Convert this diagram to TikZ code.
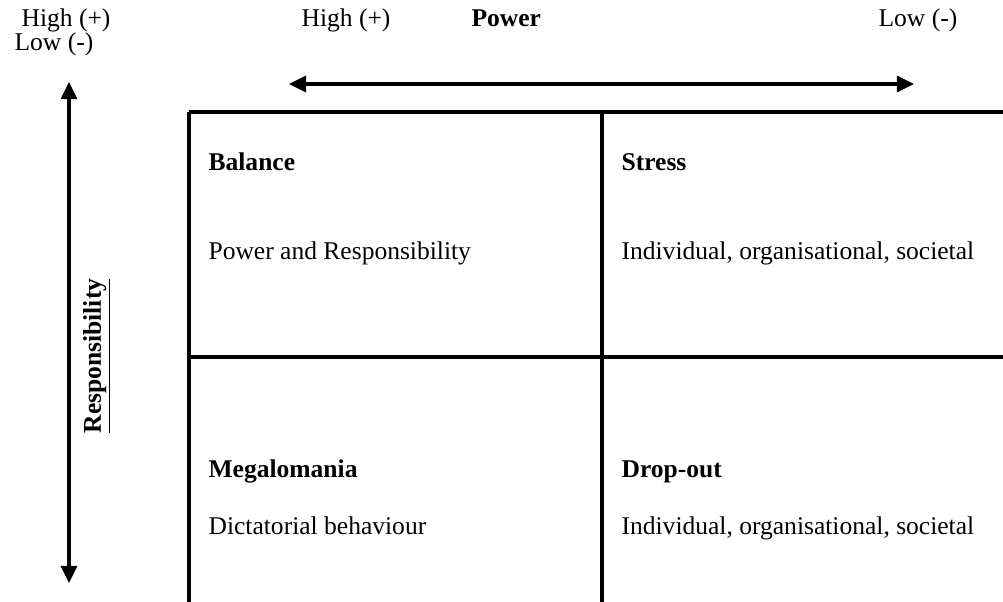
\documentclass[tikz,border=0pt]{standalone}
\usepackage{fontspec}
\setmainfont{Liberation Serif}
\usetikzlibrary{arrows.meta}

\begin{document}
\begin{tikzpicture}[x = 0.47pt, y = -0.47pt, line width = 1.5pt,
  font = \fontsize{12}{14}\selectfont,
  txt/.style = {inner sep = 0pt, anchor = base west},
  axis/.style = {{Triangle[length = 8pt, width = 7.5pt]}-{Triangle[length = 8pt, width = 7.5pt]}}]
\useasboundingbox (0, 0) rectangle (1003, 602);
% Axis labels
\node[txt] (respHigh) at (20, 27) {High (+)};
\node[txt] (respLow) at (13, 51) {Low (-)};
\node[txt] (powHigh) at (300, 27) {High (+)};
\node[txt] (powTitle) at (470, 27) {\textbf{Power}};
\node[txt] (powLow) at (877, 27) {Low (-)};
\node[rotate = 90, inner sep = 0pt] (respTitle) at (97, 356) {\underline{\textbf{Responsibility}}};
% Arrows
\coordinate (upEnd) at (69, 82);
\coordinate (downEnd) at (69, 583);
\coordinate (leftEnd) at (289, 84);
\coordinate (rightEnd) at (914, 84);
\draw[axis] (upEnd) -- (downEnd);
\draw[axis] (leftEnd) -- (rightEnd);
% Horizontal lines
\draw(189, 112) -- (1003, 112);
\draw(189, 357) -- (1003, 357);
% Vertical lines
\draw(189, 112) -- (189, 602);
\draw(602, 112) -- (602, 602);
% Cells
\node[txt] (balance) at (207, 171) {\textbf{Balance}};
\node[txt] (balanceText) at (207, 260) {Power and Responsibility};
\node[txt] (stress) at (620, 171) {\textbf{Stress}};
\node[txt] (stressText) at (620, 260) {Individual, organisational, societal};
\node[txt] (mega) at (207, 478) {\textbf{Megalomania}};
\node[txt] (megaText) at (207, 535) {Dictatorial behaviour};
\node[txt] (dropout) at (620, 478) {\textbf{Drop-out}};
\node[txt] (dropoutText) at (620, 535) {Individual, organisational, societal};
\end{tikzpicture}
\end{document}
